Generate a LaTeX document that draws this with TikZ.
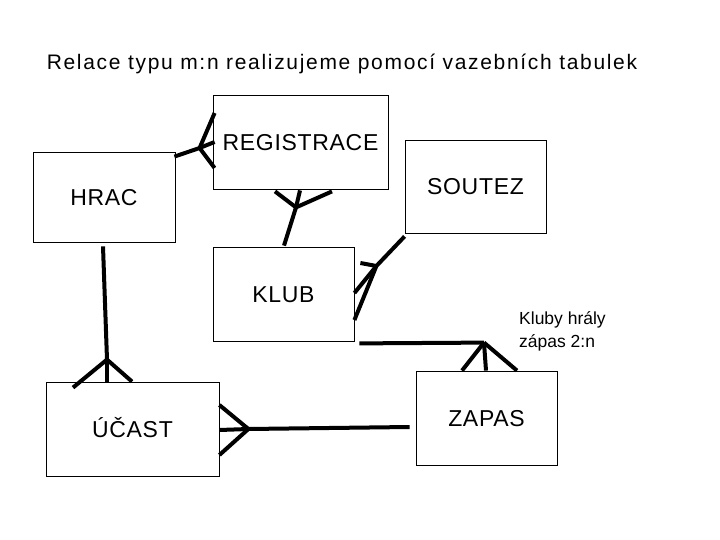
\documentclass[tikz,border=0pt]{standalone}
\usepackage{fontspec}
\setmainfont{Liberation Sans}
\newfontfamily\titlefont[LetterSpace=8]{Liberation Sans}
\newfontfamily\boxfont[LetterSpace=3]{Liberation Sans}
\usetikzlibrary{calc}

\begin{document}
\begin{tikzpicture}[
    x=1pt, y=-1pt,
    ent/.style={draw, line width=0.8pt, inner sep=0pt, minimum width=#1, minimum height=94pt, font=\boxfont\fontsize{23}{27}\selectfont, text height=16.5pt, text depth=0pt},
    ent/.default=141pt,
    rel/.style={line width=4pt},
    note/.style={align=left, inner sep=0pt, font=\fontsize{17.5}{23}\selectfont}
]
\useasboundingbox (0,0) rectangle (720,540);

\node[font=\titlefont\fontsize{21}{25}\selectfont, anchor=base] (title) at (342,70) {Relace typu m:n realizujeme pomocí vazebních tabulek};

\node[ent=142pt, minimum height=90pt] (hrac) at (104,197) {HRAC};
\node[ent=175pt] (reg) at (300.5,142) {REGISTRACE};
\node[ent, minimum height=93pt] (soutez) at (475.5,186.5) {SOUTEZ};
\node[ent] (klub) at (283.5,294) {KLUB};
\node[ent=173pt] (ucast) at (132.5,429) {ÚČAST};
\node[ent] (zapas) at (486.5,418) {ZAPAS};
\node[note, anchor=north west] (pozn) at (519,311) {Kluby hrály\\zápas 2:n};

\coordinate (hr) at ($(reg.west)+(-13,6)$);
\coordinate (rk) at ($(reg.south)+(-4.5,18)$);
\coordinate (sk) at ($(klub.east)+(22,-28)$);
\coordinate (kz) at ($(zapas.north)+(-2.5,-28)$);
\coordinate (hu) at ($(ucast.north)+(-25.5,-22)$);
\coordinate (uz) at ($(ucast.east)+(29,0)$);

\draw[rel] ($(hrac.north east)+(-1,5)$) -- (hr);
\foreach \d in {-29,0,26} \draw[rel] (hr) -- ($(reg.west)+(2,\d)$);

\draw[rel] (rk) -- ($(klub.north)+(0.5,-1)$);
\foreach \d/\e in {-25.5/2,-0.5/1,31.5/2} \draw[rel] (rk) -- ($(reg.south)+(\d,\e)$);

\draw[rel] ($(soutez.south west)+(0,3)$) -- (sk);
\foreach \d/\e in {6/-31,0/-1,0/26} \draw[rel] (sk) -- ($(klub.east)+(\d,\e)$);

\draw[rel] ($(klub.south east)+(5,2)$) -- (kz);
\foreach \d in {-24.5,-0.5,30.5} \draw[rel] (kz) -- ($(zapas.north)+(\d,0)$);

\draw[rel] ($(hrac.south)+(-1,4)$) -- (hu);
\foreach \d/\e in {-59.5/6,-25.5/0,-0.5/0} \draw[rel] (hu) -- ($(ucast.north)+(\d,\e)$);

\draw[rel] (uz) -- ($(zapas.west)+(-6,9)$);
\foreach \d in {-24,1,26} \draw[rel] (uz) -- ($(ucast.east)+(0,\d)$);

\end{tikzpicture}
\end{document}
